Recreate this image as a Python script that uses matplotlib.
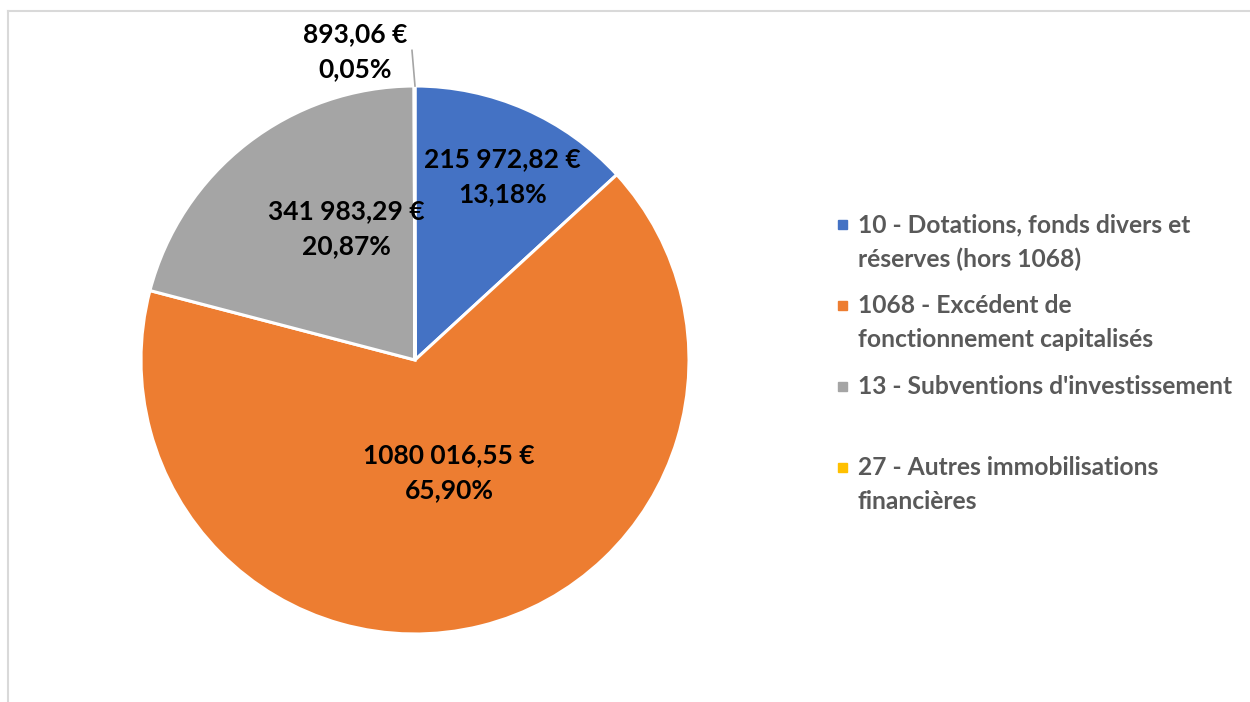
import matplotlib
matplotlib.use("Agg")
import matplotlib.pyplot as plt
from matplotlib.patches import Rectangle
from matplotlib.lines import Line2D

# ---------- data ----------
categories = [
    "10 - Dotations, fonds divers et\nréserves (hors 1068)",
    "1068 - Excédent de\nfonctionnement capitalisés",
    "13 - Subventions d'investissement",
    "27 - Autres immobilisations\nfinancières",
]
values = [215972.82, 1080016.55, 341983.29, 893.06]
colors = ["#4472C4", "#ED7D31", "#A5A5A5", "#FFC000"]

# label centres (pie radius = 1), placed like the original "best fit"
label_pos = [(0.32, 0.67), (0.124, -0.41), (-0.25, 0.48), (-0.22, 1.125)]

FONT = "Lato"
W, H = 1250, 702


def fr_money(v):
    # the source groups only the last three digits: "1080 016,55 €"
    s = f"{v:.2f}"
    ent, dec = s.split(".")
    if len(ent) > 3:
        ent = ent[:-3] + " " + ent[-3:]
    return f"{ent},{dec} €"


def fr_pct(p):
    return f"{p:.2f}".replace(".", ",") + "%"


fig = plt.figure(figsize=(W / 100, H / 100), dpi=100)

# chart-area frame (only top and left edges visible in the crop)
fig.add_artist(Line2D([8 / W, 1.0], [1 - 11 / H, 1 - 11 / H], color="#D9D9D9", lw=1.5))
fig.add_artist(Line2D([8 / W, 8 / W], [1 - 11 / H, 0.0], color="#D9D9D9", lw=1.5))

# pie axes: centre (415, 360) px, radius 274 px
cx, cy, r = 415, 360, 274
ax = fig.add_axes([(cx - r) / W, 1 - (cy + r) / H, 2 * r / W, 2 * r / H])
ax.pie(values, colors=colors, startangle=90, counterclock=False, radius=1,
       wedgeprops=dict(edgecolor="white", linewidth=2.2))
ax.set_xlim(-1, 1)
ax.set_ylim(-1, 1)
ax.set_aspect("equal")
ax.axis("off")

total = sum(values)
for v, (x, y) in zip(values, label_pos):
    ax.text(x, y, fr_money(v) + "\n" + fr_pct(100 * v / total),
            ha="center", va="center", fontsize=19, fontweight="bold",
            family=FONT, color="black", linespacing=1.55, clip_on=False)

# leader line for the tiny slice
ax.plot([-0.011, 0.0], [1.13, 1.0], color="#A5A5A5", lw=1.2, clip_on=False)

# legend drawn by hand so the marker sits on the first line
leg_x, leg_y0, step = 858, 224, 81
for i, (lab, col) in enumerate(zip(categories, colors)):
    y = leg_y0 + i * step
    fig.add_artist(Rectangle(((leg_x - 20) / W, 1 - (y + 5) / H), 9 / W, 9 / H,
                             color=col, transform=fig.transFigure))
    fig.text(leg_x / W, 1 - (y - 11) / H, lab, ha="left", va="top",
             fontsize=17.7, fontweight="bold", family=FONT, color="#595959",
             linespacing=1.6)

fig.savefig("out.png", dpi=100)
